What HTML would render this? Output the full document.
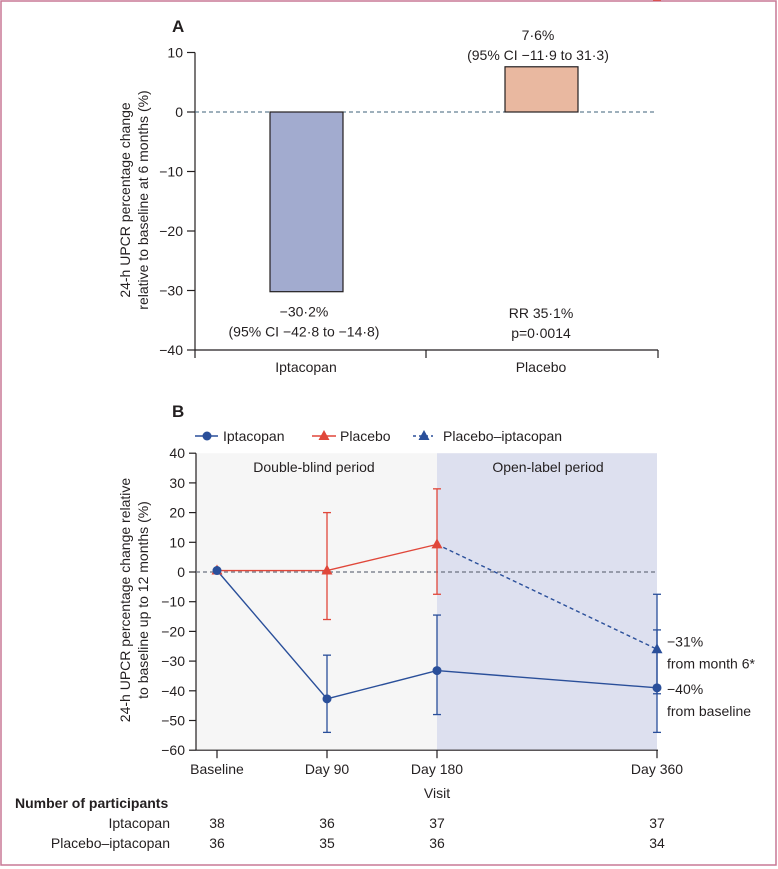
<!DOCTYPE html>
<html><head><meta charset="utf-8"><style>
html,body{margin:0;padding:0;background:#fff;}
svg{display:block;font-family:"Liberation Sans",sans-serif;}
text{fill:#231f20;}
</style></head><body>
<svg id="chart" width="778" height="869" viewBox="0 0 778 869">
<rect x="1" y="1" width="775" height="864" fill="none" stroke="#c87896" stroke-width="1.5"/>
<g id="pa"></g>
<g id="pb"></g>
</svg>
<script>
const aCategories=["Iptacopan","Placebo"];
const aValues=[-30.2,7.6];
const aTicks=[10,0,-10,-20,-30,-40];
const aLabels=[["−30·2%","(95% CI −42·8 to −14·8)"],["7·6%","(95% CI −11·9 to 31·3)"]];

const bVisits=["Baseline","Day 90","Day 180","Day 360"];
const bDays=[0,90,180,360];
const iptaVals=[0.5,-42.7,-33.2,-39];
const iptaLo=[null,-54,-48,-54];
const iptaHi=[null,-28,-14.5,-19.5];
const placVals=[0.5,0.5,9.3];
const placLo=[null,-16,-7.5];
const placHi=[null,20,28];
const pipDays=[180,360];
const pipVals=[9.3,-26];
const pipLo=[null,-41];
const pipHi=[null,-7.5];
const bTicks=[40,30,20,10,0,-10,-20,-30,-40,-50,-60];
const nIpta=[38,36,37,37];
const nPip=[36,35,36,34];

const NS="http://www.w3.org/2000/svg";
function mk(p,t,a,txt){const e=document.createElementNS(NS,t);for(const k in a)e.setAttribute(k,a[k]);if(txt!==undefined)e.textContent=txt;p.appendChild(e);return e;}

// Panel A
const pa=document.getElementById('pa');
const ya=v=>112-v*5.95;
const xa=i=>[306,541][i];
let t=mk(pa,'text',{x:172,y:32,'font-size':17,'font-weight':'bold'},'A');


let ax=mk(pa,'line',{x1:195,y1:ya(10),x2:195,y2:ya(-40),stroke:'#231f20','stroke-width':1.2});


let axx=mk(pa,'line',{x1:195,y1:ya(-40),x2:658,y2:ya(-40),stroke:'#231f20','stroke-width':1.2});


[195,426,658].forEach(x=>{mk(pa,'line',{x1:x,y1:ya(-40),x2:x,y2:ya(-40)+8,stroke:'#231f20','stroke-width':1.2});});
aTicks.forEach(v=>{
 mk(pa,'line',{x1:187,y1:ya(v),x2:195,y2:ya(v),stroke:'#231f20','stroke-width':1.2});
 const tt=mk(pa,'text',{x:183,y:ya(v)+5,'font-size':14,'text-anchor':'end'},v<0?'−'+(-v):String(v));
 
 
});
let zl=mk(pa,'line',{x1:195,y1:ya(0),x2:655,y2:ya(0),stroke:'#3d6079','stroke-width':1,'stroke-dasharray':'4,3'});


const aCols=['#a2abcf','#e9b8a0'];
aValues.forEach((v,i)=>{
 const y0=Math.min(ya(0),ya(v)),h=Math.abs(ya(v)-ya(0));
 const r=mk(pa,'rect',{x:xa(i)-36,y:y0,width:73,height:h,fill:aCols[i],stroke:'#231f20','stroke-width':1.2});
 
 
 const c=mk(pa,'text',{x:xa(i),y:ya(-40)+22,'font-size':14,'text-anchor':'middle'},aCategories[i]);
 
 
});
[[0,ya(aValues[0])+25],[1,ya(aValues[1])-27]].forEach(([i,y])=>{
 const l1=mk(pa,'text',{x:xa(i)-(i?3:2),y:y,'font-size':14,'text-anchor':'middle'},aLabels[i][0]);
 
 
 const l2=mk(pa,'text',{x:xa(i)-(i?3:2),y:y+20,'font-size':14,'text-anchor':'middle'},aLabels[i][1]);
 
 
});
let rr=mk(pa,'text',{x:541,y:318,'font-size':14,'text-anchor':'middle'},'RR 35·1%');


let pv=mk(pa,'text',{x:541,y:338,'font-size':14,'text-anchor':'middle'},'p=0·0014');


let ta=mk(pa,'text',{transform:'translate(134,200) rotate(-90)','font-size':14,'text-anchor':'middle'});


mk(ta,'tspan',{x:0,dy:-4},'24-h UPCR percentage change');
mk(ta,'tspan',{x:0,dy:18},'relative to baseline at 6 months (%)');

// Panel B
const pb=document.getElementById('pb');
const yb=v=>572-v*2.97;
const xb=d=>217+d*(657-217)/360;
let tb=mk(pb,'text',{x:172,y:417,'font-size':17,'font-weight':'bold'},'B');


let bg1=mk(pb,'rect',{x:196,y:yb(40),width:xb(180)-196,height:yb(-60)-yb(40),fill:'#f6f6f6'});


let bg2=mk(pb,'rect',{x:xb(180),y:yb(40),width:xb(360)-xb(180),height:yb(-60)-yb(40),fill:'#dde0ef'});


let r1=mk(pb,'text',{x:314,y:472,'font-size':14,'text-anchor':'middle'},'Double-blind period');


let r2=mk(pb,'text',{x:548,y:472,'font-size':14,'text-anchor':'middle'},'Open-label period');


mk(pb,'line',{x1:196,y1:yb(40),x2:196,y2:yb(-60),stroke:'#231f20','stroke-width':1.2});
mk(pb,'line',{x1:196,y1:yb(-60),x2:658,y2:yb(-60),stroke:'#231f20','stroke-width':1.2});
bTicks.forEach(v=>{
 mk(pb,'line',{x1:189,y1:yb(v),x2:196,y2:yb(v),stroke:'#231f20','stroke-width':1.2});
 const tt=mk(pb,'text',{x:185,y:yb(v)+5,'font-size':14,'text-anchor':'end'},v<0?'−'+(-v):String(v));
 
 
});
bDays.forEach((d,i)=>{
 mk(pb,'line',{x1:xb(d),y1:yb(-60),x2:xb(d),y2:yb(-60)+8,stroke:'#231f20','stroke-width':1.2});
 const tt=mk(pb,'text',{x:xb(d),y:yb(-60)+24,'font-size':14,'text-anchor':'middle'},bVisits[i]);
 
 
 const n1=mk(pb,'text',{x:xb(d),y:828,'font-size':14,'text-anchor':'middle'},nIpta[i]);
 
 
 const n2=mk(pb,'text',{x:xb(d),y:848,'font-size':14,'text-anchor':'middle'},nPip[i]);
 
 
});
let zb=mk(pb,'line',{x1:196,y1:yb(0),x2:657,y2:yb(0),stroke:'#6b7280','stroke-width':1.2,'stroke-dasharray':'4,3'});


let vx=mk(pb,'text',{x:437,y:798,'font-size':14,'text-anchor':'middle'},'Visit');


let nh=mk(pb,'text',{x:15,y:808,'font-size':14,'font-weight':'bold'},'Number of participants');


let nl1=mk(pb,'text',{x:170,y:828,'font-size':14,'text-anchor':'end'},'Iptacopan');


let nl2=mk(pb,'text',{x:170,y:848,'font-size':14,'text-anchor':'end'},'Placebo–iptacopan');


let tbt=mk(pb,'text',{transform:'translate(134,600) rotate(-90)','font-size':14,'text-anchor':'middle'});


mk(tbt,'tspan',{x:0,dy:-4},'24-h UPCR percentage change relative');
mk(tbt,'tspan',{x:0,dy:18},'to baseline up to 12 months (%)');

function errs(days,lo,hi,col,name){
 days.forEach((d,i)=>{ if(lo[i]===null)return;
  const g=mk(pb,'g',{stroke:col,'stroke-width':1.3});
  
  
  mk(g,'line',{x1:xb(d),y1:yb(hi[i]),x2:xb(d),y2:yb(lo[i])});
  mk(g,'line',{x1:xb(d)-4,y1:yb(hi[i]),x2:xb(d)+4,y2:yb(hi[i])});
  mk(g,'line',{x1:xb(d)-4,y1:yb(lo[i]),x2:xb(d)+4,y2:yb(lo[i])});
 });
}
const BLUE='#2a4f9a',RED='#e0473a';
errs(bDays,iptaLo,iptaHi,BLUE,'iptacopan-error-bar');
errs(bDays,placLo,placHi,RED,'placebo-error-bar');
errs(pipDays,pipLo,pipHi,BLUE,'placebo-iptacopan-error-bar');
function line(days,vals,col,dash,name){
 const p=mk(pb,'polyline',{points:days.map((d,i)=>xb(d)+','+yb(vals[i])).join(' '),fill:'none',stroke:col,'stroke-width':1.4,'stroke-dasharray':dash||'none'});
 
 
}
line(bDays.slice(0,placVals.length),placVals,RED,null,'placebo-line');
line(bDays,iptaVals,BLUE,null,'iptacopan-line');
line(pipDays,pipVals,BLUE,'4,3','placebo-iptacopan-line');
function tri(x,y,col){return mk(pb,'polygon',{points:`${x},${y-6} ${x-5.5},${y+4} ${x+5.5},${y+4}`,fill:col});}
placVals.forEach((v,i)=>{const m=tri(xb(bDays[i]),yb(v),RED);
 
 });
iptaVals.forEach((v,i)=>{const m=mk(pb,'circle',{cx:xb(bDays[i]),cy:yb(v),r:4.5,fill:BLUE});
 
 });
pipVals.forEach((v,i)=>{if(i===0)return;const m=tri(xb(pipDays[i]),yb(v),BLUE);
 
 });
[['−31%',-24],['from month 6*',-31.5],['−40%',-40],['from baseline',-47.5]].forEach(([s,v])=>{
 const a=mk(pb,'text',{x:667,y:yb(v)+3,'font-size':14},s);
 
 
});
// legend
const lg=mk(pb,'g',{});


mk(lg,'line',{x1:195,y1:436,x2:218,y2:436,stroke:BLUE,'stroke-width':1.4});
mk(lg,'circle',{cx:207,cy:436,r:4.5,fill:BLUE});
mk(lg,'text',{x:223,y:441,'font-size':14},'Iptacopan');
mk(lg,'line',{x1:312,y1:436,x2:336,y2:436,stroke:RED,'stroke-width':1.4});
mk(lg,'polygon',{points:'324,430 318.5,440 329.5,440',fill:RED});
mk(lg,'text',{x:340,y:441,'font-size':14},'Placebo');
mk(lg,'line',{x1:413,y1:436,x2:433,y2:436,stroke:BLUE,'stroke-width':1.4,'stroke-dasharray':'3,3'});
mk(lg,'polygon',{points:'424,430 418.5,440 429.5,440',fill:BLUE});
mk(lg,'text',{x:443,y:441,'font-size':14},'Placebo–iptacopan');
</script>
</body></html>
